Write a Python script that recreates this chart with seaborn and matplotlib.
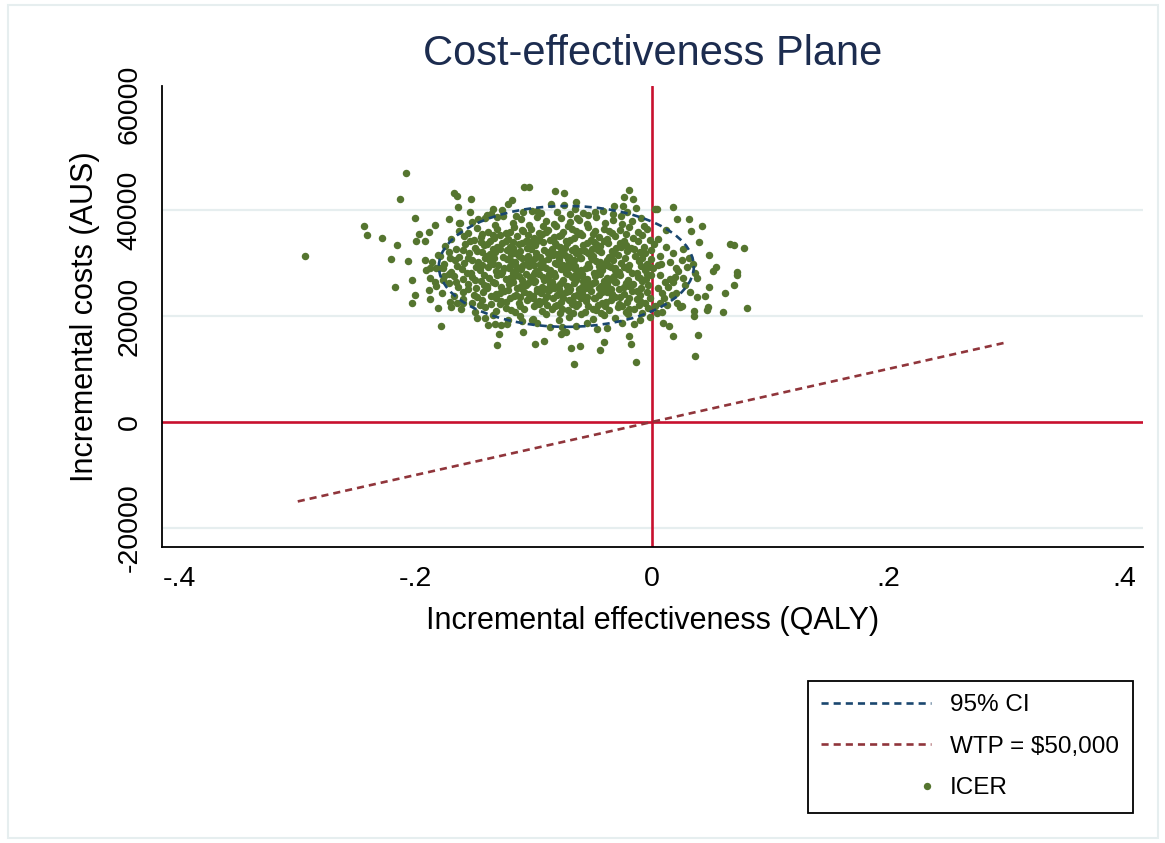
import matplotlib
matplotlib.use("Agg")
import matplotlib.pyplot as plt
from matplotlib.patches import Ellipse, Rectangle
from matplotlib.lines import Line2D
from matplotlib.legend_handler import HandlerLine2D
import pandas as pd
import seaborn as sns

# ICER simulations: isolated points first, then the dense core
icer_outer = [
    (-0.2935, 31400), (-0.208, 47000), (-0.2136, 42000), (-0.168, 43150), (-0.165, 42700), (-0.153, 42070),
    (-0.244, 37050), (-0.241, 35350), (-0.2286, 34800), (-0.216, 33350), (-0.221, 30800), (-0.2065, 30400),
    (-0.201, 38450), (-0.218, 25550), (-0.203, 26850), (-0.2008, 23900), (-0.203, 22500), (-0.1926, 30550),
    (-0.184, 37250), (-0.197, 35550), (-0.200, 34150), (-0.192, 34150), (-0.1887, 35900), (-0.184, 26450),
    (-0.189, 24850), (-0.188, 23250), (-0.1816, 21450), (-0.1788, 18150), (-0.1706, 21650), (-0.1655, 22500),
    (-0.160, 22500), (-0.176, 27550), (-0.188, 29000), (-0.1825, 29000), (-0.177, 29000), (-0.1797, 31400),
    (-0.172, 38250), (-0.163, 37500), (-0.1644, 40600), (-0.1537, 39700),
    (-0.1316, 14550), (-0.1294, 16600), (-0.1093, 16900), (-0.0994, 14800), (-0.0918, 15300), (-0.0686, 14000),
    (-0.061, 14400), (-0.0661, 10900), (-0.0443, 13650), (-0.0407, 15100), (-0.0175, 14800), (-0.0198, 16250),
    (-0.0138, 11250), (-0.0774, 16600), (-0.0726, 17050), (-0.1231, 18550), (-0.1387, 18300), (-0.1325, 18450),
    (-0.141, 19550), (-0.1099, 19050), (-0.1014, 19250), (-0.0862, 18000), (-0.0647, 18100), (-0.0469, 17550),
    (-0.0257, 18600), (0.0096, 18600), (0.0144, 18150), (0.0175, 16250),
    (0.0175, 40600), (0.0215, 38250), (0.031, 38300), (0.0424, 37000), (0.0333, 36000), (0.0401, 34000),
    (0.0483, 31450), (0.0542, 29300), (0.0514, 28550), (0.066, 33650), (0.0695, 33450), (0.0777, 32900),
    (0.072, 28300), (0.0718, 27800), (0.0692, 25900), (0.0621, 24400), (0.0486, 25400), (0.0446, 23850),
    (0.0379, 23550), (0.0472, 21650), (0.0463, 21150), (0.0605, 20750), (0.0808, 21500), (0.0356, 21000),
    (0.0356, 20000), (0.0393, 16400), (0.0364, 12450),
    (0.0116, 36250), (-0.0065, 37050), (0.0025, 40100), (0.0045, 40100), (0.035, 29850), (0.0364, 28050),
    (0.0379, 27250), (0.0322, 24600), (0.0252, 21900), (0.0209, 22400), (0.0266, 27100), (0.0294, 29200),
    (0.0252, 30550), (0.0201, 29100), (0.0153, 30250), (0.0068, 31300), (0.0195, 27400), (0.0181, 26450),
    (0.0138, 25550), (0.011, 26450), (0.0167, 23950), (0.0082, 24300), (0.0068, 22400), (0.0124, 22100),
    (0.004, 20500), (0.0082, 20800), (0.0237, 21750), (0.0053, 29600), (0.0011, 29000), (0.0068, 27750),
    (-0.1627, 37600), (-0.147, 38250), (-0.140, 39050), (-0.1345, 40150), (-0.1266, 40000), (-0.1218, 41100),
    (-0.1184, 41900), (-0.108, 44250), (-0.1042, 44250), (-0.1153, 38850), (-0.109, 39700), (-0.1014, 39800),
    (-0.0977, 39900), (-0.0822, 43650), (-0.0746, 43150), (-0.0856, 41150), (-0.0743, 40950), (-0.0647, 41550),
    (-0.0808, 39700), (-0.0695, 39250), (-0.0653, 40150), (-0.054, 39050), (-0.0483, 39700), (-0.0412, 39850),
    (-0.0322, 40750), (-0.0248, 40750), (-0.0235, 42400), (-0.0192, 43750), (-0.0136, 40300), (-0.0328, 39200),
    (-0.0263, 38900), (-0.0638, 38450), (-0.1316, 38750), (-0.0158, 42000),
    (0.005, 34500), (0.012, 33000), (0.018, 31800), (0.008, 29800), (0.022, 28400), (0.015, 27000),
    (0.028, 25800), (0.005, 25200), (0.010, 23300), (0.020, 24300), (0.003, 21800), (0.026, 32600), (0.031, 30900),
]

icer_core = [
    # 37000-39600
    (-0.152, 37800), (-0.141, 38400), (-0.133, 37200), (-0.126, 38900), (-0.118, 37600), (-0.111, 38300),
    (-0.104, 37100), (-0.097, 38700), (-0.090, 37900), (-0.083, 37300), (-0.077, 38500), (-0.069, 37700),
    (-0.062, 38100), (-0.055, 37400), (-0.047, 38600), (-0.040, 37600), (-0.033, 38200), (-0.025, 37300),
    (-0.017, 37900), (-0.009, 38500), (-0.136, 39300), (-0.094, 39500), (-0.058, 39400), (-0.021, 39600),
    # 35500-37000
    (-0.163, 36100), (-0.156, 35700), (-0.148, 36600), (-0.139, 35900), (-0.131, 36400), (-0.124, 35600),
    (-0.117, 36800), (-0.109, 36000), (-0.102, 36500), (-0.096, 35700), (-0.088, 36300), (-0.081, 36900),
    (-0.075, 35800), (-0.068, 36400), (-0.061, 35600), (-0.054, 36700), (-0.048, 36000), (-0.041, 36500),
    (-0.034, 35700), (-0.027, 36300), (-0.019, 36800), (-0.012, 35900), (-0.004, 36400), (-0.144, 35500),
    (-0.092, 36900), (-0.071, 37000),
    # 34000-35500
    (-0.170, 34600), (-0.159, 35100), (-0.151, 34300), (-0.145, 34900), (-0.137, 34100), (-0.129, 35300),
    (-0.122, 34500), (-0.114, 35000), (-0.107, 34200), (-0.100, 34800), (-0.093, 35400), (-0.086, 34400),
    (-0.079, 35000), (-0.073, 34100), (-0.066, 34700), (-0.059, 35200), (-0.052, 34300), (-0.045, 34900),
    (-0.038, 34500), (-0.031, 35100), (-0.024, 34200), (-0.016, 34800), (-0.008, 35300), (-0.002, 34400),
    (-0.118, 34000), (-0.083, 34900), (-0.063, 35400), (-0.049, 34000), (-0.134, 34700), (-0.097, 34100),
    # 32500-34000
    (-0.175, 33200), (-0.166, 32700), (-0.158, 33600), (-0.150, 32900), (-0.142, 33400), (-0.135, 32600),
    (-0.127, 33800), (-0.120, 33000), (-0.113, 33500), (-0.106, 32800), (-0.099, 33300), (-0.092, 33900),
    (-0.085, 32600), (-0.078, 33100), (-0.072, 33700), (-0.065, 32900), (-0.058, 33400), (-0.051, 32700),
    (-0.044, 33200), (-0.037, 33800), (-0.030, 32800), (-0.022, 33400), (-0.015, 32600), (-0.007, 33100),
    (0.002, 33600), (-0.131, 33100), (-0.103, 33900), (-0.081, 33400), (-0.068, 32500), (-0.047, 33600),
    (-0.026, 33000), (-0.145, 33900),
    # 31000-32500
    (-0.181, 31500), (-0.172, 32100), (-0.163, 31200), (-0.155, 31800), (-0.148, 32300), (-0.140, 31400),
    (-0.133, 32000), (-0.126, 31100), (-0.119, 31700), (-0.112, 32300), (-0.105, 31300), (-0.098, 31900),
    (-0.091, 32400), (-0.084, 31500), (-0.077, 32100), (-0.070, 31200), (-0.064, 31800), (-0.057, 32300),
    (-0.050, 31400), (-0.043, 32000), (-0.036, 31100), (-0.029, 31600), (-0.021, 32200), (-0.014, 31300),
    (-0.006, 31900), (-0.001, 32400), (-0.123, 32400), (-0.095, 31100), (-0.074, 31600), (-0.060, 31000),
    (-0.046, 32400), (-0.033, 31900), (-0.110, 31000), (-0.088, 31800),
    # 29500-31000
    (-0.186, 30200), (-0.176, 29800), (-0.167, 30600), (-0.159, 30000), (-0.152, 30500), (-0.144, 29700),
    (-0.137, 30300), (-0.130, 29600), (-0.123, 30800), (-0.116, 30100), (-0.109, 29700), (-0.102, 30400),
    (-0.095, 29900), (-0.088, 30700), (-0.082, 30000), (-0.075, 29600), (-0.068, 30300), (-0.061, 30900),
    (-0.054, 29800), (-0.047, 30400), (-0.040, 29900), (-0.033, 30600), (-0.026, 30000), (-0.019, 29600),
    (-0.011, 30300), (-0.004, 29800), (-0.001, 30700), (-0.120, 29500), (-0.099, 30900), (-0.079, 30500),
    (-0.065, 29500), (-0.051, 30800), (-0.036, 29500), (-0.141, 30900), (-0.092, 29500), (-0.071, 30800),
    # 28000-29500
    (-0.191, 28600), (-0.180, 29100), (-0.170, 28300), (-0.161, 28900), (-0.153, 28100), (-0.146, 28700),
    (-0.139, 29300), (-0.132, 28400), (-0.125, 29000), (-0.118, 28200), (-0.111, 28800), (-0.104, 29400),
    (-0.097, 28500), (-0.090, 29100), (-0.083, 28200), (-0.077, 28800), (-0.070, 29300), (-0.063, 28400),
    (-0.056, 29000), (-0.049, 28100), (-0.042, 28700), (-0.035, 29200), (-0.028, 28300), (-0.020, 28900),
    (-0.013, 28100), (-0.006, 28600), (-0.002, 29200), (-0.114, 29300), (-0.087, 28000), (-0.073, 28500),
    (-0.059, 28000), (-0.045, 29400), (-0.031, 28600), (-0.100, 28000), (-0.066, 29100), (-0.128, 28000),
    # 26500-28000
    (-0.188, 27200), (-0.177, 26800), (-0.168, 27600), (-0.160, 26900), (-0.152, 27400), (-0.145, 26600),
    (-0.138, 27200), (-0.131, 27800), (-0.124, 26900), (-0.117, 27500), (-0.110, 26700), (-0.103, 27300),
    (-0.096, 27900), (-0.089, 27000), (-0.082, 27600), (-0.075, 26700), (-0.068, 27300), (-0.062, 27900),
    (-0.055, 26900), (-0.048, 27500), (-0.041, 26600), (-0.034, 27200), (-0.027, 27800), (-0.020, 26800),
    (-0.012, 27400), (-0.005, 26900), (-0.001, 27700), (-0.107, 28000), (-0.085, 26500), (-0.071, 28000),
    (-0.058, 26600), (-0.044, 27900), (-0.030, 26500), (-0.099, 26600), (-0.064, 27100),
    # 25000-26500
    (-0.183, 25700), (-0.172, 26200), (-0.164, 25400), (-0.156, 26000), (-0.149, 25200), (-0.142, 25800),
    (-0.135, 26400), (-0.128, 25500), (-0.121, 26100), (-0.114, 25300), (-0.107, 25900), (-0.100, 26400),
    (-0.093, 25400), (-0.086, 26000), (-0.079, 25100), (-0.072, 25700), (-0.066, 26300), (-0.059, 25400),
    (-0.052, 26000), (-0.045, 25200), (-0.038, 25800), (-0.031, 26400), (-0.024, 25500), (-0.016, 26100),
    (-0.009, 25300), (-0.003, 25900), (-0.118, 26500), (-0.097, 25000), (-0.076, 26400), (-0.062, 25000),
    (-0.048, 26500), (-0.035, 25100), (-0.083, 25600), (-0.055, 25600),
    # 23500-25000
    (-0.178, 24300), (-0.168, 23800), (-0.160, 24600), (-0.151, 23900), (-0.143, 24500), (-0.136, 23700),
    (-0.129, 24300), (-0.122, 24900), (-0.115, 24000), (-0.108, 24600), (-0.101, 23800), (-0.094, 24400),
    (-0.087, 24900), (-0.080, 24000), (-0.073, 24600), (-0.066, 23700), (-0.059, 24300), (-0.052, 24800),
    (-0.045, 23900), (-0.038, 24500), (-0.031, 23600), (-0.024, 24200), (-0.017, 24800), (-0.010, 23900),
    (-0.004, 24500), (-0.112, 23500), (-0.090, 23600), (-0.069, 25000), (-0.055, 23500), (-0.041, 24900),
    (-0.027, 23500), (-0.077, 24300),
    # 22000-23500
    (-0.171, 22700), (-0.160, 23200), (-0.152, 22400), (-0.144, 23000), (-0.136, 22200), (-0.128, 22800),
    (-0.120, 23300), (-0.113, 22500), (-0.106, 23100), (-0.098, 22300), (-0.091, 22900), (-0.084, 23400),
    (-0.077, 22600), (-0.070, 23100), (-0.063, 22200), (-0.056, 22800), (-0.049, 23300), (-0.042, 22400),
    (-0.035, 23000), (-0.028, 22200), (-0.021, 22700), (-0.013, 23200), (-0.006, 22500), (-0.002, 23300),
    (-0.101, 23400), (-0.080, 22000), (-0.060, 23400), (-0.046, 22000),
    # 20500-22000
    (-0.162, 21300), (-0.150, 20800), (-0.141, 21600), (-0.132, 20900), (-0.124, 21500), (-0.116, 20700),
    (-0.108, 21300), (-0.100, 21800), (-0.093, 20900), (-0.085, 21400), (-0.078, 20600), (-0.071, 21200),
    (-0.064, 21800), (-0.057, 20800), (-0.050, 21400), (-0.043, 20600), (-0.036, 21100), (-0.029, 21700),
    (-0.022, 20800), (-0.015, 21300), (-0.008, 20600), (-0.003, 21500), (-0.089, 22000), (-0.067, 20500),
    (-0.040, 21900),
    # 17500-20500
    (-0.148, 19700), (-0.135, 20200), (-0.122, 19300), (-0.112, 20000), (-0.101, 19500), (-0.090, 20300),
    (-0.079, 19200), (-0.070, 19900), (-0.060, 20400), (-0.050, 19400), (-0.041, 20100), (-0.031, 19600),
    (-0.020, 20300), (-0.010, 19300), (-0.002, 19900), (-0.128, 18300), (-0.097, 18700), (-0.076, 18000),
    (-0.055, 18600), (-0.038, 17800), (-0.015, 18400),
]

# the densest middle of the cloud, where the reference is almost solid
icer_centre = [
    (-0.135, 35200), (-0.120, 35800), (-0.105, 35300), (-0.090, 35900), (-0.077, 35300), (-0.064, 36000),
    (-0.050, 35400), (-0.036, 36100), (-0.022, 35400), (-0.110, 36300),
    (-0.154, 34100), (-0.140, 33600), (-0.124, 34200), (-0.110, 33700), (-0.096, 34500), (-0.082, 33800),
    (-0.069, 34300), (-0.055, 33800), (-0.041, 34200), (-0.027, 33700), (-0.012, 34200), (-0.118, 32900),
    (-0.160, 32500), (-0.144, 32100), (-0.129, 32700), (-0.116, 31900), (-0.102, 32600), (-0.087, 32100),
    (-0.074, 32800), (-0.061, 32300), (-0.048, 32900), (-0.034, 32300), (-0.018, 32800), (-0.137, 31700),
    (-0.081, 31700), (-0.054, 31800), (-0.010, 32000),
    (-0.171, 31000), (-0.156, 30900), (-0.134, 30900), (-0.119, 30400), (-0.106, 31000), (-0.092, 30300),
    (-0.079, 31000), (-0.066, 30500), (-0.052, 31200), (-0.038, 30600), (-0.023, 31000), (-0.008, 30900),
    (-0.147, 30200), (-0.113, 31300), (-0.070, 30000), (-0.044, 30200),
    (-0.165, 29500), (-0.149, 29300), (-0.135, 29800), (-0.121, 29100), (-0.107, 29900), (-0.094, 29300),
    (-0.080, 29900), (-0.067, 29600), (-0.053, 29300), (-0.039, 29700), (-0.024, 29300), (-0.009, 29500),
    (-0.115, 28600), (-0.086, 28700), (-0.060, 28600), (-0.031, 29000), (-0.045, 28500), (-0.100, 29600),
    (-0.172, 27900), (-0.157, 28200), (-0.142, 27700), (-0.127, 28300), (-0.113, 27600), (-0.099, 28300),
    (-0.086, 27700), (-0.073, 28100), (-0.059, 27500), (-0.046, 28200), (-0.032, 27600), (-0.017, 28200),
    (-0.004, 28000), (-0.120, 27100), (-0.092, 27300), (-0.065, 27800), (-0.038, 27100), (-0.010, 27200),
    (-0.166, 26400), (-0.150, 26700), (-0.133, 26200), (-0.119, 26800), (-0.105, 26200), (-0.091, 26700),
    (-0.078, 26000), (-0.064, 26700), (-0.050, 26200), (-0.036, 26700), (-0.022, 26200), (-0.008, 26600),
    (-0.140, 25600), (-0.111, 25600), (-0.070, 25500), (-0.043, 25700), (-0.019, 25700),
    (-0.156, 25000), (-0.140, 25200), (-0.125, 24800), (-0.111, 25200), (-0.097, 24700), (-0.083, 25300),
    (-0.070, 24700), (-0.056, 25200), (-0.042, 24600), (-0.028, 25000), (-0.013, 24700), (-0.132, 24100),
    (-0.104, 24200), (-0.063, 24200), (-0.034, 24200), (-0.090, 25000),
    (-0.148, 23500), (-0.132, 23400), (-0.117, 23800), (-0.104, 23300), (-0.089, 23700), (-0.075, 23300),
    (-0.062, 23800), (-0.048, 23400), (-0.034, 23800), (-0.019, 23400), (-0.124, 22700), (-0.096, 22800),
    (-0.067, 22700), (-0.039, 22700), (-0.010, 22900),
    (-0.146, 22100), (-0.129, 22300), (-0.112, 21900), (-0.096, 22200), (-0.082, 21800), (-0.068, 22300),
    (-0.054, 21800), (-0.040, 22300), (-0.025, 21800), (-0.011, 22100), (-0.119, 21200), (-0.076, 21300),
    (-0.047, 21200), (-0.019, 21400),
]

# 95% confidence ellipse (centre and half-axes)
ci_center = (-0.0725, 29350)
ci_half_qaly = 0.108
ci_half_cost = 11400

# willingness-to-pay line, $50,000 per QALY
wtp_qaly = [-0.3, 0.3]
wtp_cost = [-15000, 15000]

x_ticks = [-0.4, -0.2, 0, 0.2, 0.4]
x_tick_labels = ["-.4", "-.2", "0", ".2", ".4"]
y_ticks = [-20000, 0, 20000, 40000, 60000]
y_tick_labels = ["-20000", "0", "20000", "40000", "60000"]
grid_costs = [-20000, 20000, 40000]

GREEN = "#55752f"
NAVY = "#1a476f"
MAROON = "#90353b"
RED = "#c8102e"
GRID = "#e6eeef"
DASH = (0, (2.7, 1.9))


class RightMarkerHandler(HandlerLine2D):
    # Stata puts the marker key at the right end of the key area
    def get_xdata(self, legend, xdescent, ydescent, width, height, fontsize):
        right = -xdescent + width
        return [right - 6, right], [right - 3]


sns.set_style("white")
plt.rcParams["font.family"] = ["Liberation Sans", "DejaVu Sans"]
plt.rcParams["text.color"] = "black"
plt.rcParams["axes.labelcolor"] = "black"

fig = plt.figure(figsize=(11.65, 8.43), dpi=100)
ax = fig.add_axes([162 / 1165, 1 - 547 / 843, (1143 - 162) / 1165, (547 - 86) / 843])

for c in grid_costs:
    ax.axhline(c, color=GRID, lw=1.6, zorder=0.5)
ax.axvline(0, color=RED, lw=1.9, zorder=1)
ax.axhline(0, color=RED, lw=1.9, zorder=1)

df = pd.DataFrame(icer_outer + icer_core + icer_centre, columns=["qaly", "cost"])
sns.scatterplot(data=df, x="qaly", y="cost", color=GREEN, s=29, linewidth=0,
                ax=ax, zorder=2, legend=False)

ax.add_patch(Ellipse(ci_center, 2 * ci_half_qaly, 2 * ci_half_cost, fill=False,
                     ec=NAVY, lw=1.9, ls=DASH, zorder=3))
sns.lineplot(x=wtp_qaly, y=wtp_cost, color=MAROON, lw=1.9, linestyle=DASH,
             ax=ax, zorder=3, sort=False, estimator=None)

ax.set_xlim(-0.415, 0.416)
ax.set_ylim(-23600, 63400)
ax.set_xticks(x_ticks)
ax.set_xticklabels(x_tick_labels)
ax.set_yticks(y_ticks)
ax.set_yticklabels(y_tick_labels, rotation=90, va="center")
ax.tick_params(direction="out", length=8, width=1.2, colors="black", labelsize=20.5, pad=6)
for side in ["top", "right"]:
    ax.spines[side].set_visible(False)
for side in ["left", "bottom"]:
    ax.spines[side].set_color("black")
    ax.spines[side].set_linewidth(1.3)

ax.set_xlabel("Incremental effectiveness (QALY)", fontsize=22, labelpad=10, color="black")
ax.set_ylabel("Incremental costs (AUS)", fontsize=22, labelpad=12, color="black")
ax.set_title("Cost-effectiveness Plane", fontsize=30, color="#1c2c4f", pad=15)

handles = [
    Line2D([], [], color=NAVY, lw=1.9, ls=DASH),
    Line2D([], [], color=MAROON, lw=1.9, ls=DASH),
    Line2D([], [], color=GREEN, ls="none", marker="o", markersize=5.3, markeredgewidth=0),
]
leg = fig.legend(handles, ["95% CI", "WTP = $50,000", "ICER"], loc="upper left",
                 bbox_to_anchor=(808 / 1165, 1 - 811 / 843, 325 / 1165, 130 / 843),
                 mode="expand", borderaxespad=0, fontsize=17.5, handlelength=4.5,
                 handletextpad=0.8, labelspacing=0.8, borderpad=0.55, fancybox=False,
                 framealpha=1, edgecolor="black", handler_map={handles[2]: RightMarkerHandler()})
leg.get_frame().set_linewidth(1.3)
for t in leg.get_texts():
    t.set_color("black")

fig.patches.append(Rectangle((8 / 1165, 5 / 843), 1150 / 1165, 833 / 843, transform=fig.transFigure,
                             fill=False, ec=GRID, lw=1.5))

fig.savefig("out.png", dpi=100, facecolor="white")
